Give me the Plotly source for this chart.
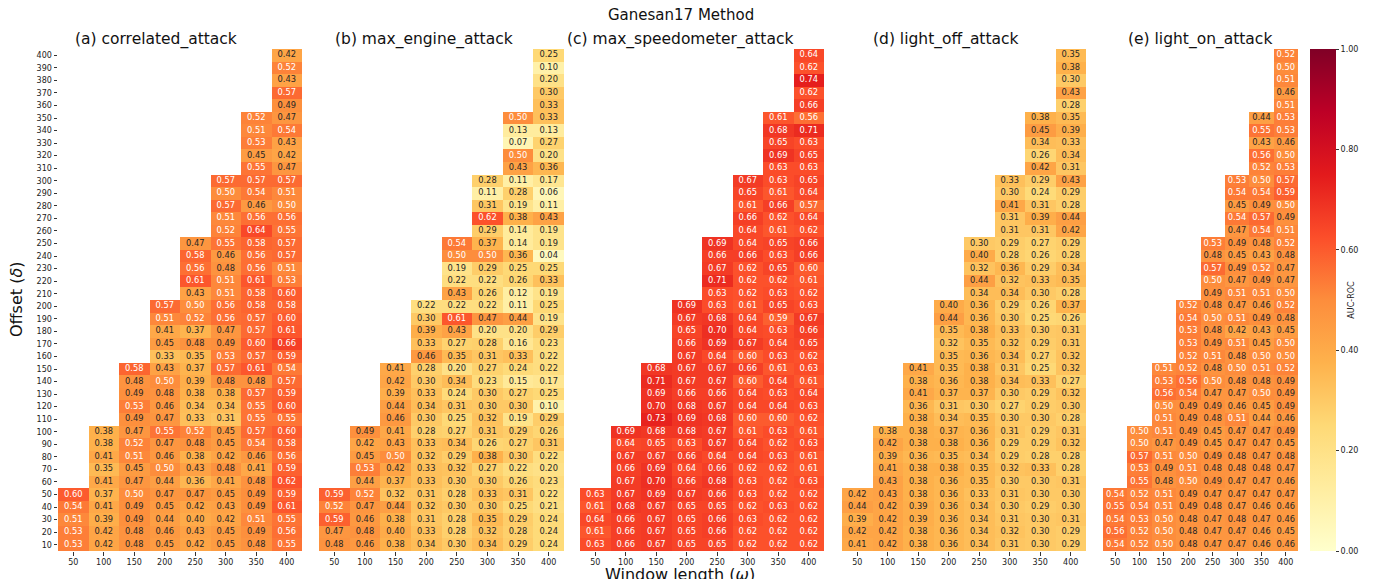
import plotly.graph_objects as go

# ---------------- data ----------------
windows = [50, 100, 150, 200, 250, 300, 350, 400]
offsets_top_down = list(range(400, 0, -10))  # 400 ... 10

panel_titles = ["(a) correlated_attack", "(b) max_engine_attack",
                "(c) max_speedometer_attack", "(d) light_off_attack",
                "(e) light_on_attack"]

# each row (offset 400 -> 10) lists the values for windows >= offset (right-aligned)
correlated_attack = [
    [0.42], [0.52], [0.43], [0.57], [0.49],
    [0.52, 0.47], [0.51, 0.54], [0.53, 0.43], [0.45, 0.42], [0.55, 0.47],
    [0.57, 0.57, 0.57], [0.50, 0.54, 0.51], [0.57, 0.46, 0.50], [0.51, 0.56, 0.56], [0.52, 0.64, 0.55],
    [0.47, 0.55, 0.58, 0.57], [0.58, 0.46, 0.56, 0.57], [0.56, 0.48, 0.56, 0.51], [0.61, 0.51, 0.61, 0.53], [0.43, 0.51, 0.58, 0.60],
    [0.57, 0.50, 0.56, 0.58, 0.58], [0.51, 0.52, 0.56, 0.57, 0.60], [0.41, 0.37, 0.47, 0.57, 0.61], [0.45, 0.48, 0.49, 0.60, 0.66], [0.33, 0.35, 0.53, 0.57, 0.59],
    [0.58, 0.43, 0.37, 0.57, 0.61, 0.54], [0.48, 0.50, 0.39, 0.48, 0.48, 0.57], [0.49, 0.48, 0.38, 0.38, 0.57, 0.59], [0.53, 0.46, 0.34, 0.34, 0.55, 0.60], [0.49, 0.47, 0.33, 0.31, 0.55, 0.55],
    [0.38, 0.47, 0.55, 0.52, 0.45, 0.57, 0.60], [0.38, 0.52, 0.47, 0.48, 0.45, 0.54, 0.58], [0.41, 0.51, 0.46, 0.38, 0.42, 0.46, 0.56], [0.35, 0.45, 0.50, 0.43, 0.48, 0.41, 0.59], [0.41, 0.47, 0.44, 0.36, 0.41, 0.48, 0.62],
    [0.60, 0.37, 0.50, 0.47, 0.47, 0.45, 0.49, 0.59], [0.54, 0.41, 0.49, 0.45, 0.42, 0.43, 0.49, 0.61], [0.51, 0.39, 0.49, 0.44, 0.40, 0.42, 0.51, 0.55], [0.53, 0.42, 0.48, 0.46, 0.43, 0.45, 0.49, 0.56], [0.53, 0.42, 0.48, 0.45, 0.42, 0.45, 0.48, 0.55],
]

max_engine_attack = [
    [0.25], [0.10], [0.20], [0.30], [0.33],
    [0.50, 0.33], [0.13, 0.13], [0.07, 0.27], [0.50, 0.20], [0.43, 0.36],
    [0.28, 0.11, 0.17], [0.11, 0.28, 0.06], [0.31, 0.19, 0.11], [0.62, 0.38, 0.43], [0.29, 0.14, 0.19],
    [0.54, 0.37, 0.14, 0.19], [0.50, 0.50, 0.36, 0.04], [0.19, 0.29, 0.25, 0.25], [0.22, 0.22, 0.26, 0.33], [0.43, 0.26, 0.12, 0.19],
    [0.22, 0.22, 0.22, 0.11, 0.25], [0.30, 0.61, 0.47, 0.44, 0.19], [0.39, 0.43, 0.20, 0.20, 0.29], [0.33, 0.27, 0.28, 0.16, 0.23], [0.46, 0.35, 0.31, 0.33, 0.22],
    [0.41, 0.28, 0.20, 0.27, 0.24, 0.22], [0.42, 0.30, 0.34, 0.23, 0.15, 0.17], [0.39, 0.33, 0.24, 0.30, 0.27, 0.25], [0.44, 0.34, 0.31, 0.30, 0.30, 0.10], [0.46, 0.30, 0.25, 0.32, 0.19, 0.29],
    [0.49, 0.41, 0.28, 0.27, 0.31, 0.29, 0.26], [0.42, 0.43, 0.33, 0.34, 0.26, 0.27, 0.31], [0.45, 0.50, 0.32, 0.29, 0.38, 0.30, 0.22], [0.53, 0.42, 0.33, 0.32, 0.27, 0.22, 0.20], [0.44, 0.37, 0.33, 0.30, 0.30, 0.26, 0.23],
    [0.59, 0.52, 0.32, 0.31, 0.28, 0.33, 0.31, 0.22], [0.52, 0.47, 0.44, 0.32, 0.30, 0.30, 0.25, 0.21], [0.59, 0.46, 0.38, 0.31, 0.28, 0.35, 0.29, 0.24], [0.47, 0.48, 0.40, 0.33, 0.28, 0.32, 0.28, 0.24], [0.48, 0.46, 0.38, 0.34, 0.30, 0.34, 0.29, 0.24],
]

max_speedometer_attack = [
    [0.64], [0.62], [0.74], [0.62], [0.66],
    [0.61, 0.56], [0.68, 0.71], [0.65, 0.63], [0.69, 0.65], [0.63, 0.63],
    [0.67, 0.63, 0.65], [0.65, 0.61, 0.64], [0.61, 0.66, 0.57], [0.66, 0.62, 0.64], [0.64, 0.61, 0.62],
    [0.69, 0.64, 0.65, 0.66], [0.66, 0.66, 0.63, 0.66], [0.67, 0.62, 0.65, 0.60], [0.71, 0.62, 0.62, 0.61], [0.63, 0.62, 0.63, 0.62],
    [0.69, 0.63, 0.61, 0.65, 0.63], [0.67, 0.68, 0.64, 0.59, 0.67], [0.65, 0.70, 0.64, 0.63, 0.66], [0.66, 0.69, 0.67, 0.64, 0.65], [0.67, 0.64, 0.60, 0.63, 0.62],
    [0.68, 0.67, 0.67, 0.66, 0.61, 0.63], [0.71, 0.67, 0.67, 0.60, 0.64, 0.61], [0.69, 0.66, 0.66, 0.64, 0.63, 0.64], [0.70, 0.68, 0.67, 0.64, 0.64, 0.63], [0.73, 0.69, 0.68, 0.60, 0.60, 0.62],
    [0.69, 0.68, 0.68, 0.67, 0.61, 0.63, 0.61], [0.64, 0.65, 0.63, 0.67, 0.64, 0.62, 0.63], [0.67, 0.67, 0.66, 0.64, 0.64, 0.63, 0.61], [0.66, 0.69, 0.64, 0.66, 0.62, 0.62, 0.61], [0.67, 0.70, 0.66, 0.68, 0.63, 0.62, 0.63],
    [0.63, 0.67, 0.69, 0.67, 0.66, 0.63, 0.62, 0.62], [0.61, 0.68, 0.67, 0.65, 0.65, 0.62, 0.63, 0.62], [0.64, 0.66, 0.67, 0.65, 0.66, 0.63, 0.62, 0.62], [0.61, 0.66, 0.67, 0.65, 0.66, 0.62, 0.62, 0.62], [0.63, 0.66, 0.67, 0.65, 0.65, 0.62, 0.62, 0.62],
]

light_off_attack = [
    [0.35], [0.38], [0.30], [0.43], [0.28],
    [0.38, 0.35], [0.45, 0.39], [0.34, 0.33], [0.26, 0.34], [0.42, 0.31],
    [0.33, 0.29, 0.43], [0.30, 0.24, 0.29], [0.41, 0.31, 0.28], [0.31, 0.39, 0.44], [0.31, 0.31, 0.42],
    [0.30, 0.29, 0.27, 0.29], [0.40, 0.28, 0.26, 0.28], [0.32, 0.36, 0.29, 0.34], [0.44, 0.32, 0.33, 0.35], [0.34, 0.34, 0.30, 0.28],
    [0.40, 0.36, 0.29, 0.26, 0.37], [0.44, 0.36, 0.30, 0.25, 0.26], [0.35, 0.38, 0.33, 0.30, 0.31], [0.32, 0.35, 0.32, 0.29, 0.31], [0.35, 0.36, 0.34, 0.27, 0.32],
    [0.41, 0.35, 0.38, 0.31, 0.25, 0.32], [0.38, 0.36, 0.38, 0.34, 0.33, 0.27], [0.41, 0.37, 0.37, 0.30, 0.29, 0.32], [0.36, 0.31, 0.30, 0.27, 0.29, 0.30], [0.38, 0.34, 0.35, 0.30, 0.30, 0.28],
    [0.38, 0.38, 0.37, 0.36, 0.31, 0.29, 0.31], [0.42, 0.38, 0.38, 0.36, 0.29, 0.29, 0.32], [0.39, 0.36, 0.35, 0.34, 0.29, 0.28, 0.28], [0.41, 0.38, 0.38, 0.35, 0.32, 0.33, 0.28], [0.43, 0.38, 0.36, 0.35, 0.30, 0.30, 0.31],
    [0.42, 0.43, 0.38, 0.36, 0.33, 0.31, 0.30, 0.30], [0.44, 0.42, 0.39, 0.36, 0.34, 0.30, 0.29, 0.30], [0.39, 0.42, 0.39, 0.36, 0.34, 0.31, 0.30, 0.31], [0.42, 0.42, 0.38, 0.36, 0.34, 0.32, 0.30, 0.29], [0.41, 0.42, 0.38, 0.36, 0.34, 0.31, 0.30, 0.29],
]

light_on_attack = [
    [0.52], [0.50], [0.51], [0.46], [0.51],
    [0.44, 0.53], [0.55, 0.53], [0.43, 0.46], [0.56, 0.50], [0.52, 0.53],
    [0.53, 0.50, 0.57], [0.54, 0.54, 0.59], [0.45, 0.49, 0.50], [0.54, 0.57, 0.49], [0.47, 0.54, 0.51],
    [0.53, 0.49, 0.48, 0.52], [0.48, 0.45, 0.43, 0.48], [0.57, 0.49, 0.52, 0.47], [0.50, 0.47, 0.49, 0.47], [0.49, 0.51, 0.51, 0.50],
    [0.52, 0.48, 0.47, 0.46, 0.52], [0.54, 0.50, 0.51, 0.49, 0.48], [0.53, 0.48, 0.42, 0.43, 0.45], [0.53, 0.49, 0.51, 0.45, 0.50], [0.52, 0.51, 0.48, 0.50, 0.50],
    [0.51, 0.52, 0.48, 0.50, 0.51, 0.52], [0.53, 0.56, 0.50, 0.48, 0.48, 0.49], [0.56, 0.54, 0.47, 0.47, 0.50, 0.49], [0.50, 0.49, 0.49, 0.46, 0.45, 0.49], [0.51, 0.49, 0.48, 0.51, 0.44, 0.46],
    [0.50, 0.51, 0.49, 0.45, 0.47, 0.47, 0.49], [0.50, 0.47, 0.49, 0.45, 0.47, 0.47, 0.45], [0.57, 0.51, 0.50, 0.49, 0.48, 0.47, 0.48], [0.53, 0.49, 0.51, 0.48, 0.48, 0.48, 0.47], [0.55, 0.48, 0.50, 0.49, 0.47, 0.47, 0.46],
    [0.54, 0.52, 0.51, 0.49, 0.47, 0.47, 0.47, 0.47], [0.55, 0.54, 0.51, 0.49, 0.48, 0.47, 0.46, 0.46], [0.54, 0.53, 0.50, 0.48, 0.47, 0.48, 0.47, 0.46], [0.56, 0.52, 0.50, 0.48, 0.47, 0.47, 0.46, 0.45], [0.54, 0.52, 0.50, 0.48, 0.47, 0.47, 0.46, 0.46],
]

panels = [correlated_attack, max_engine_attack, max_speedometer_attack,
          light_off_attack, light_on_attack]

colorbar_ticks = [0.0, 0.2, 0.4, 0.6, 0.8, 1.0]

# ---------------- styling ----------------
W, H = 1391, 579
FONT = "DejaVu Sans"
ylorrd = ["#ffffcc", "#ffeda0", "#fed976", "#feb24c", "#fd8d3c",
          "#fc4e2a", "#e31a1c", "#bd0026", "#800026"]
colorscale = [[i / 8, c] for i, c in enumerate(ylorrd)]

panel_px = [(58, 302), (319, 564), (580, 824), (842, 1086), (1103, 1298)]
title_cx = [156, 424, 680, 946, 1200]
y_top_px, y_bot_px = 49, 551


def fx(p):
    return p / W


def fy(p):
    return 1 - p / H


fig = go.Figure()
layout_axes = {}

for k, (rows, title, (x0, x1)) in enumerate(zip(panels, panel_titles, panel_px), start=1):
    z = []
    tx, ty, tt, tc = [], [], [], []
    for r_i, off in enumerate(offsets_top_down):
        vals = rows[r_i]
        full = [None] * (len(windows) - len(vals)) + list(vals)
        z.append(full)
        for w, v in zip(windows, full):
            if v is None:
                continue
            tx.append(w)
            ty.append(off)
            tt.append(f"{v:.2f}")
            tc.append("white" if v >= 0.495 else "#262626")
    xa = "x" if k == 1 else f"x{k}"
    ya = "y" if k == 1 else f"y{k}"
    fig.add_trace(go.Heatmap(
        x=windows, y=offsets_top_down, z=z, coloraxis="coloraxis",
        xaxis=xa, yaxis=ya, hoverongaps=False, xgap=0, ygap=0))
    fig.add_trace(go.Scatter(
        x=tx, y=ty, text=tt, mode="text", xaxis=xa, yaxis=ya,
        textposition="middle center", hoverinfo="skip", showlegend=False,
        textfont=dict(family=FONT, size=8.3, color=tc)))

    xkey = "xaxis" if k == 1 else f"xaxis{k}"
    ykey = "yaxis" if k == 1 else f"yaxis{k}"
    layout_axes[xkey] = dict(
        domain=[fx(x0), fx(x1)], anchor=ya, range=[25, 425],
        tickvals=windows, ticktext=[str(w) for w in windows],
        ticks="outside", ticklen=3.5, tickcolor="#333", tickwidth=0.8,
        tickfont=dict(family=FONT, size=8, color="#222"),
        showgrid=False, zeroline=False, showline=False, fixedrange=True)
    ydict = dict(
        domain=[fy(y_bot_px), fy(y_top_px)], anchor=xa, range=[5, 405],
        showgrid=False, zeroline=False, showline=False, fixedrange=True)
    if k == 1:
        ydict.update(tickvals=offsets_top_down,
                     ticktext=[str(o) for o in offsets_top_down],
                     ticks="outside", ticklen=3.5, tickcolor="#333", tickwidth=0.8,
                     tickfont=dict(family=FONT, size=8, color="#222"))
    else:
        ydict.update(showticklabels=False, ticks="")
    layout_axes[ykey] = ydict

annotations = []
for title, cx in zip(panel_titles, title_cx):
    annotations.append(dict(
        text=title, x=fx(cx), y=fy(40), xref="paper", yref="paper",
        xanchor="center", yanchor="middle", showarrow=False,
        font=dict(family=FONT, size=15.5, color="#111")))
annotations.append(dict(
    text="Ganesan17 Method", x=fx(681), y=fy(15), xref="paper", yref="paper",
    xanchor="center", yanchor="middle", showarrow=False,
    font=dict(family=FONT, size=15, color="#111")))
annotations.append(dict(
    text="Window length (<i>ω</i>)", x=fx(680), y=fy(574), xref="paper", yref="paper",
    xanchor="center", yanchor="middle", showarrow=False,
    font=dict(family=FONT, size=16, color="#111")))
annotations.append(dict(
    text="Offset (<i>δ</i>)", x=fx(16), y=fy(300), xref="paper", yref="paper",
    xanchor="center", yanchor="middle", showarrow=False, textangle=-90,
    font=dict(family=FONT, size=16, color="#111")))

fig.update_layout(
    width=W, height=H,
    margin=dict(l=0, r=0, t=0, b=0),
    paper_bgcolor="white", plot_bgcolor="white",
    showlegend=False,
    annotations=annotations,
    coloraxis=dict(
        colorscale=colorscale, cmin=0, cmax=1,
        colorbar=dict(
            x=fx(1310), xanchor="left", y=fy(y_top_px), yanchor="top",
            lenmode="pixels", len=y_bot_px - y_top_px,
            thicknessmode="pixels", thickness=26,
            outlinewidth=0, xpad=0, ypad=0,
            tickvals=colorbar_ticks, ticktext=[f"{t:.2f}" for t in colorbar_ticks],
            ticks="outside", ticklen=3.5, tickcolor="#333",
            tickfont=dict(family=FONT, size=8, color="#222"),
            title=dict(text="AUC-ROC", side="right",
                       font=dict(family=FONT, size=8, color="#222")),
        ),
    ),
    **layout_axes,
)

fig.write_html("out.html")
